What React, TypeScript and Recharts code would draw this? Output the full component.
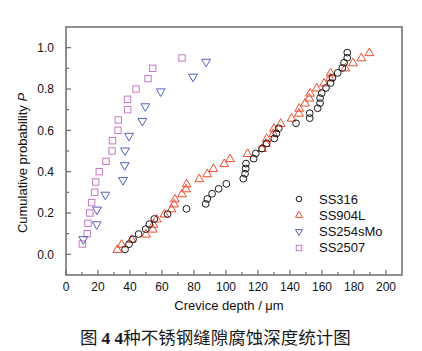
import React from "react";
import { ScatterChart, Scatter, XAxis, YAxis, ReferenceArea } from "recharts";

// rank probability i/(n+1) for the two 40-point sets
const prob40 = [
  0.024, 0.049, 0.073, 0.098, 0.122, 0.146, 0.171, 0.195, 0.22, 0.244,
  0.268, 0.293, 0.317, 0.341, 0.366, 0.39, 0.415, 0.439, 0.463, 0.488,
  0.512, 0.537, 0.561, 0.585, 0.61, 0.634, 0.659, 0.683, 0.707, 0.732,
  0.756, 0.78, 0.805, 0.829, 0.854, 0.878, 0.902, 0.927, 0.951, 0.976,
];
const ss316Depth = [
  36.9, 39.4, 41.9, 45.4, 49.8, 52.1, 55.2, 63.5, 75.3, 87.3,
  88.3, 91.3, 95.4, 100.2, 110.8, 111.9, 112.3, 112.5, 117.3, 118.6,
  122.5, 125.4, 130.2, 131.5, 133, 143.8, 152.3, 152.3, 157.3, 158.8,
  158.8, 159.8, 162.5, 165.4, 166.5, 169.8, 172.7, 173.8, 175.8, 175.8,
];
const ss904lDepth = [
  32.1, 34.8, 41, 50, 54.2, 54.6, 56.7, 61.5, 66, 67.5,
  68.1, 72.5, 75, 75.4, 83.3, 88.3, 92.1, 98.9, 102.5, 113.5,
  122.5, 125, 125.4, 129.6, 130, 134.2, 141, 145.6, 145.8, 149.4,
  152, 152.5, 156.7, 161.3, 165, 165.4, 174.6, 179.4, 184.6, 189.6,
];
const ss254Depth = [10.8, 19.2, 19.4, 24.6, 35.6, 36.7, 36.9, 39.4, 47.7, 49.6, 59.2, 79.4, 87.5];
const ss254Prob = [0.071, 0.143, 0.214, 0.286, 0.357, 0.429, 0.5, 0.571, 0.643, 0.714, 0.786, 0.857, 0.929];
const ss2507Depth = [
  10.2, 13.3, 13.75, 14.8, 16, 17.9, 18.5, 20.8, 25, 28.75,
  29, 32.5, 32.7, 38.5, 38.5, 43.75, 51.3, 54.2, 72.5,
];
const ss2507Prob = [
  0.05, 0.1, 0.15, 0.2, 0.25, 0.3, 0.35, 0.4, 0.45, 0.5,
  0.55, 0.6, 0.65, 0.7, 0.75, 0.8, 0.85, 0.9, 0.95,
];

const xMajorTicks = [0, 20, 40, 60, 80, 100, 120, 140, 160, 180, 200];
const xMinorTicks = [10, 30, 50, 70, 90, 110, 130, 150, 170, 190];
const yMajorTicks = [0, 0.2, 0.4, 0.6, 0.8, 1.0];
const yMinorTicks = [0.1, 0.3, 0.5, 0.7, 0.9];

const AXIS = "#6b6b6b";
const BLACK = "#1a1a1a";
const RED = "#f24a2c";
const BLUE = "#5561b8";
const PINK = "#c67ac6";
const X_MARGIN = 7;
const Y_MARGIN = 12;

const toPoints = (xs: number[], ys: number[]) => xs.map((x, i) => ({ x, y: ys[i] }));

const ss316 = toPoints(ss316Depth, prob40);
const ss904l = toPoints(ss904lDepth, prob40);
const ss254 = toPoints(ss254Depth, ss254Prob);
const ss2507 = toPoints(ss2507Depth, ss2507Prob);

const xTicks = [...xMajorTicks, ...xMinorTicks].sort((a, b) => a - b);
const yTicks = [...yMajorTicks, ...yMinorTicks].sort((a, b) => a - b);

function CircleMark({ cx, cy, r = 3.4 }: any) {
  return <circle cx={cx} cy={cy} r={r} fill="none" stroke={BLACK} strokeWidth={1} />;
}
function UpMark({ cx, cy, s = 1 }: any) {
  const pts = `${cx},${cy - 4.6 * s} ${cx - 4.4 * s},${cy + 3 * s} ${cx + 4.4 * s},${cy + 3 * s}`;
  return <polygon points={pts} fill="none" stroke={RED} strokeWidth={1} />;
}
function DownMark({ cx, cy, s = 1 }: any) {
  const pts = `${cx - 4.4 * s},${cy - 3 * s} ${cx + 4.4 * s},${cy - 3 * s} ${cx},${cy + 4.6 * s}`;
  return <polygon points={pts} fill="none" stroke={BLUE} strokeWidth={1} />;
}
function SquareMark({ cx, cy, h = 3.2 }: any) {
  return <rect x={cx - h} y={cy - h} width={h * 2} height={h * 2} fill="none" stroke={PINK} strokeWidth={1} />;
}

function XTick({ x, y, payload }: any) {
  const v = payload.value;
  const major = xMajorTicks.includes(v);
  const axisY = y - X_MARGIN;
  return (
    <g>
      <line x1={x} x2={x} y1={axisY} y2={axisY - (major ? 5 : 3)} stroke={AXIS} strokeWidth={1.2} />
      {major && (
        <text x={x} y={y} dy="0.71em" textAnchor="middle" fontSize={12} fill="#111">
          {v}
        </text>
      )}
    </g>
  );
}

function YTick({ x, y, payload }: any) {
  const v = payload.value;
  const major = Math.round(v * 10) % 2 === 0;
  const axisX = x + Y_MARGIN;
  return (
    <g>
      <line x1={axisX} x2={axisX + (major ? 5 : 3)} y1={y} y2={y} stroke={AXIS} strokeWidth={1.2} />
      {major && (
        <text x={x} y={y} dy="0.355em" textAnchor="end" fontSize={12} fill="#111">
          {v.toFixed(1)}
        </text>
      )}
    </g>
  );
}

const legendItems = [
  { name: "SS316", mark: <CircleMark cx={7} cy={7} r={2.8} /> },
  { name: "SS904L", mark: <UpMark cx={7} cy={7} s={0.8} /> },
  { name: "SS254sMo", mark: <DownMark cx={7} cy={7} s={0.8} /> },
  { name: "SS2507", mark: <SquareMark cx={7} cy={7} h={2.7} /> },
];

export default function App() {
  return (
    <div
      style={{
        position: "absolute",
        left: 0,
        top: 0,
        width: 422,
        height: 351,
        background: "#fff",
        fontFamily: "'Liberation Sans', Arial, sans-serif",
      }}
    >
      <ScatterChart width={422} height={351} margin={{ top: 27, right: 20, bottom: 46, left: 0 }}>
        <XAxis
          type="number"
          dataKey="x"
          domain={[0, 210]}
          ticks={xTicks}
          interval={0}
          height={30}
          tickSize={0}
          tickMargin={X_MARGIN}
          axisLine={false}
          tickLine={false}
          tick={<XTick />}
          label={{
            content: () => (
              <text x={229} y={305} dy="0.355em" textAnchor="middle" fontSize={13} fill="#111">
                Crevice depth / μm
              </text>
            ),
          }}
        />
        <YAxis
          type="number"
          dataKey="y"
          domain={[-0.1, 1.1]}
          ticks={yTicks}
          interval={0}
          width={66}
          tickSize={0}
          tickMargin={Y_MARGIN}
          axisLine={false}
          tickLine={false}
          tick={<YTick />}
          label={{
            content: () => (
              <text
                x={22}
                y={163}
                dy="0.355em"
                textAnchor="middle"
                fontSize={13}
                fill="#111"
                transform="rotate(-90, 22, 163)"
              >
                Cumulative probability <tspan fontStyle="italic">P</tspan>
              </text>
            ),
          }}
        />
        <ReferenceArea x1={0} x2={210} y1={-0.1} y2={1.1} fill="none" stroke={AXIS} strokeWidth={1.5} />
        <Scatter name="SS2507" data={ss2507} shape={<SquareMark />} isAnimationActive={false} />
        <Scatter name="SS254sMo" data={ss254} shape={<DownMark />} isAnimationActive={false} />
        <Scatter name="SS904L" data={ss904l} shape={<UpMark />} isAnimationActive={false} />
        <Scatter name="SS316" data={ss316} shape={<CircleMark />} isAnimationActive={false} />
      </ScatterChart>

      <div style={{ position: "absolute", left: 292, top: 191 }}>
        {legendItems.map((item, i) => (
          <div
            key={item.name}
            style={{ position: "absolute", left: 0, top: i * 16.3, height: 16, display: "flex", alignItems: "center" }}
          >
            <svg width={14} height={14} style={{ marginRight: 13 }}>
              {item.mark}
            </svg>
            <span style={{ fontSize: 13, color: "#111", whiteSpace: "nowrap" }}>{item.name}</span>
          </div>
        ))}
      </div>

      <div
        style={{
          position: "absolute",
          left: 80,
          top: 326,
          whiteSpace: "nowrap",
          fontSize: 17.5,
          lineHeight: "22px",
          fontWeight: 400,
          color: "#1a1a1a",
          fontFamily: "'Noto Sans CJK SC', sans-serif",
        }}
      >
        图 <span style={{ fontFamily: "'Liberation Serif', serif", fontWeight: 700 }}>4 4</span>种不锈钢缝隙腐蚀深度统计图
      </div>
    </div>
  );
}
